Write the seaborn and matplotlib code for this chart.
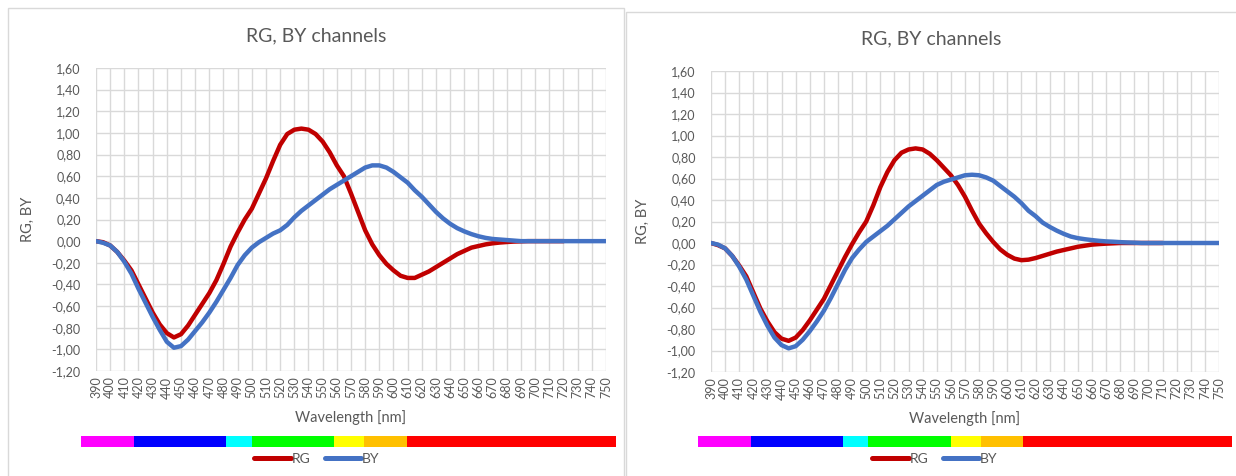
# two excel-style "RG, BY channels" charts side by side, with a spectrum strip under each

import matplotlib.pyplot as plt
import numpy as np
import pandas as pd
import seaborn as sns
from matplotlib.patches import Rectangle
from matplotlib.ticker import FuncFormatter

WAVELENGTHS = list(range(390, 755, 5))

# left chart
RG_LEFT = [
    0.00, -0.01, -0.04, -0.10, -0.18, -0.27, -0.40, -0.53, -0.66, -0.77,
    -0.85, -0.89, -0.86, -0.78, -0.68, -0.58, -0.48, -0.36, -0.21, -0.05,
    0.08, 0.20, 0.30, 0.44, 0.58, 0.74, 0.89, 0.99, 1.03, 1.04,
    1.03, 0.99, 0.92, 0.82, 0.70, 0.60, 0.44, 0.27, 0.10, -0.03,
    -0.13, -0.21, -0.27, -0.32, -0.34, -0.34, -0.31, -0.28, -0.24, -0.20,
    -0.16, -0.12, -0.09, -0.06, -0.045, -0.03, -0.02, -0.013, -0.008, -0.004,
    -0.002, 0.0, 0.0, 0.0, 0.0, 0.0, 0.0,
]
BY_LEFT = [
    0.00, -0.015, -0.04, -0.10, -0.19, -0.30, -0.44, -0.57, -0.70, -0.82,
    -0.93, -0.985, -0.97, -0.91, -0.83, -0.75, -0.66, -0.56, -0.45, -0.34,
    -0.22, -0.13, -0.06, -0.01, 0.03, 0.07, 0.10, 0.15, 0.22, 0.28,
    0.33, 0.38, 0.43, 0.48, 0.52, 0.56, 0.60, 0.64, 0.68, 0.70,
    0.70, 0.68, 0.64, 0.59, 0.54, 0.47, 0.41, 0.34, 0.27, 0.21,
    0.16, 0.12, 0.09, 0.065, 0.045, 0.03, 0.02, 0.015, 0.01, 0.005,
    0.0, 0.0, 0.0, 0.0, 0.0, 0.0, 0.0, 0.0, 0.0, 0.0,
    0.0, 0.0, 0.0,
]

# right chart
RG_RIGHT = [
    0.00, -0.02, -0.05, -0.12, -0.21, -0.31, -0.46, -0.61, -0.73, -0.83,
    -0.89, -0.91, -0.88, -0.81, -0.72, -0.62, -0.52, -0.39, -0.26, -0.13,
    -0.01, 0.10, 0.20, 0.35, 0.52, 0.66, 0.77, 0.84, 0.87, 0.88,
    0.87, 0.83, 0.77, 0.70, 0.63, 0.54, 0.43, 0.30, 0.18, 0.09,
    0.01, -0.06, -0.11, -0.145, -0.16, -0.155, -0.14, -0.12, -0.10, -0.08,
    -0.065, -0.05, -0.035, -0.025, -0.015, -0.01, -0.006, -0.003, 0.0, 0.0,
    0.0, 0.0, 0.0, 0.0, 0.0,
]
BY_RIGHT = [
    0.00, -0.015, -0.05, -0.12, -0.22, -0.34, -0.49, -0.64, -0.77, -0.88,
    -0.95, -0.98, -0.96, -0.90, -0.82, -0.73, -0.63, -0.51, -0.38, -0.25,
    -0.14, -0.06, 0.01, 0.06, 0.11, 0.16, 0.22, 0.28, 0.34, 0.39,
    0.44, 0.49, 0.54, 0.57, 0.59, 0.61, 0.63, 0.635, 0.63, 0.61,
    0.58, 0.53, 0.48, 0.43, 0.37, 0.30, 0.25, 0.19, 0.15, 0.115,
    0.085, 0.06, 0.045, 0.035, 0.027, 0.02, 0.015, 0.012, 0.008, 0.005,
    0.003, 0.0, 0.0, 0.0, 0.0, 0.0, 0.0, 0.0, 0.0, 0.0,
    0.0, 0.0, 0.0,
]

# spectrum strip under the charts
BAND_EDGES = [381, 418, 483, 501, 559, 580, 610, 757]
BAND_COLORS = ["#FF00FF", "#0000FF", "#00FFFF", "#00FF00", "#FFFF00", "#FFC000", "#FF0000"]

COLORS = {"RG": "#C00000", "BY": "#4472C4"}
TEXT = "#595959"
GRID = "#D9D9D9"

W, H = 1236, 476


def frac(x0, y0, x1, y1):
    # pixel box -> figure fraction [left, bottom, width, height]
    return [x0 / W, 1 - y1 / H, (x1 - x0) / W, (y1 - y0) / H]


def long_df(rg, by):
    rows = []
    for name, vals in (("RG", rg), ("BY", by)):
        for wl, v in zip(WAVELENGTHS, vals):
            rows.append({"wavelength": wl, "value": v, "channel": name})
    return pd.DataFrame(rows)


def draw_chart(fig, rg, by, plot_box, strip_box, frame_box, title_xy, legend_xy):
    ax = fig.add_axes(frac(*plot_box))
    df = long_df(rg, by)
    sns.lineplot(
        data=df, x="wavelength", y="value", hue="channel", palette=COLORS,
        linewidth=3.2, ax=ax, legend=False, estimator=None, sort=False,
    )
    for line in ax.lines:
        line.set_solid_capstyle("round")
        line.set_solid_joinstyle("round")
    ax.set_xlim(390, 750)
    ax.set_ylim(-1.2, 1.6)
    ax.set_xticks(np.arange(390, 751, 10))
    ax.set_yticks(np.arange(-1.2, 1.61, 0.2))
    ax.yaxis.set_major_formatter(FuncFormatter(lambda v, _: f"{v:.2f}".replace(".", ",").replace("-0,00", "0,00")))
    ax.tick_params(axis="x", rotation=90, length=0, pad=4, labelsize=9, colors=TEXT)
    ax.tick_params(axis="y", length=0, pad=11, labelsize=9, colors=TEXT)
    ax.grid(True, color=GRID, linewidth=1)
    for s in ax.spines.values():
        s.set_visible(False)
    ax.set_xlabel("Wavelength [nm]", fontsize=10.5, color=TEXT, labelpad=8)
    ax.set_ylabel("RG, BY", fontsize=10.5, color=TEXT, labelpad=12)

    # spectrum strip
    sax = fig.add_axes(frac(*strip_box))
    starts = BAND_EDGES[:-1]
    widths = np.diff(BAND_EDGES)
    sax.barh(0, widths, left=starts, color=BAND_COLORS, height=1, linewidth=0)
    sax.set_xlim(BAND_EDGES[0], BAND_EDGES[-1])
    sax.set_ylim(-0.5, 0.5)
    sax.axis("off")

    fig.text(title_xy[0] / W, 1 - title_xy[1] / H, "RG, BY channels",
             ha="center", va="center", fontsize=14, color=TEXT)

    handles = [plt.Line2D([], [], color=COLORS[k], lw=3.6, solid_capstyle="round") for k in ("RG", "BY")]
    fig.legend(handles, ["RG", "BY"], loc="center", ncol=2, frameon=False,
               bbox_to_anchor=(legend_xy[0] / W, 1 - legend_xy[1] / H),
               fontsize=10, handlelength=2.6, handletextpad=0.1, columnspacing=1.0,
               labelcolor=TEXT)

    x0, y0, x1, y1 = frame_box
    fig.add_artist(Rectangle((x0 / W, 1 - y1 / H), (x1 - x0) / W, (y1 - y0) / H,
                             transform=fig.transFigure, fill=False, ec=GRID, lw=1))


def main():
    sns.set_theme(style="white")
    plt.rcParams["font.family"] = ["Lato", "DejaVu Sans"]

    fig = plt.figure(figsize=(W / 100, H / 100), dpi=100)
    fig.patch.set_facecolor("white")

    draw_chart(fig, RG_LEFT, BY_LEFT,
               plot_box=(96, 68, 606, 371), strip_box=(81, 436, 616, 447),
               frame_box=(8, 8, 624, 480), title_xy=(316, 36), legend_xy=(317, 459))
    draw_chart(fig, RG_RIGHT, BY_RIGHT,
               plot_box=(711, 71, 1219, 372), strip_box=(698, 436, 1232, 447),
               frame_box=(626, 12, 1240, 480), title_xy=(931, 39), legend_xy=(935, 459))

    fig.savefig("out.png", dpi=100)
    plt.close(fig)


if __name__ == "__main__":
    main()
